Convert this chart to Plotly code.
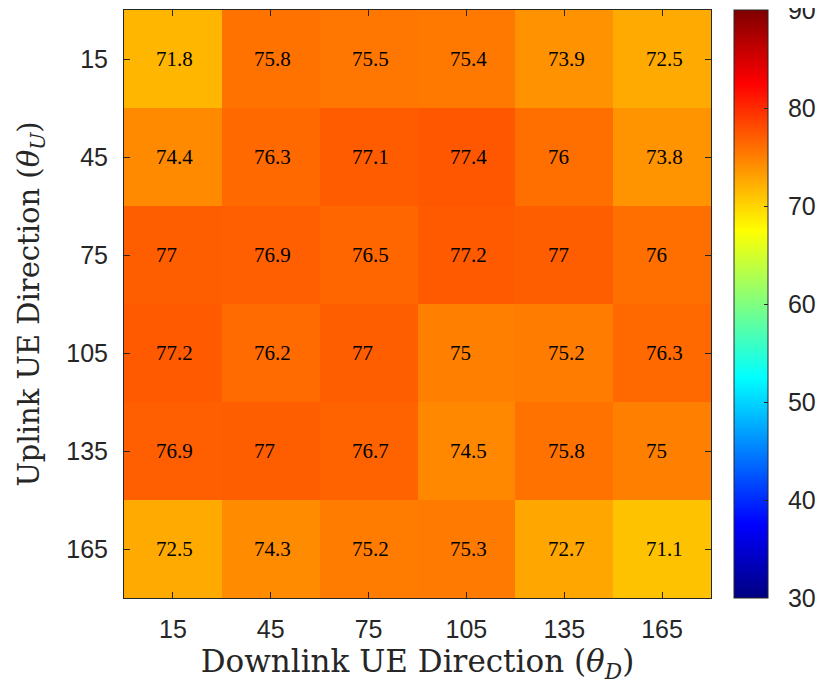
import plotly.graph_objects as go

downlink_dirs = [15, 45, 75, 105, 135, 165]
uplink_dirs = [15, 45, 75, 105, 135, 165]

row_15 = [71.8, 75.8, 75.5, 75.4, 73.9, 72.5]
row_45 = [74.4, 76.3, 77.1, 77.4, 76, 73.8]
row_75 = [77, 76.9, 76.5, 77.2, 77, 76]
row_105 = [77.2, 76.2, 77, 75, 75.2, 76.3]
row_135 = [76.9, 77, 76.7, 74.5, 75.8, 75]
row_165 = [72.5, 74.3, 75.2, 75.3, 72.7, 71.1]

cbar_ticks = [30, 40, 50, 60, 70, 80, 90]

z = [row_15, row_45, row_75, row_105, row_135, row_165]

# matlab style jet
jet = [
    [0.0, 'rgb(0,0,128)'],
    [0.125, 'rgb(0,0,255)'],
    [0.375, 'rgb(0,255,255)'],
    [0.625, 'rgb(255,255,0)'],
    [0.875, 'rgb(255,0,0)'],
    [1.0, 'rgb(128,0,0)'],
]

axis_col = '#262626'
tick_font = dict(family='Liberation Sans', size=25, color=axis_col)
nb = '\u00a0'

fig = go.Figure()
fig.add_trace(go.Heatmap(
    x=downlink_dirs, y=uplink_dirs, z=z,
    colorscale=jet, zmin=30, zmax=90,
    hoverinfo='skip',
    colorbar=dict(
        x=1.039, xanchor='left', xpad=0, y=0.5, yanchor='middle', ypad=0,
        len=1.0, lenmode='fraction', thickness=34,
        outlinecolor=axis_col, outlinewidth=1,
        tickmode='array', tickvals=cbar_ticks,
        ticktext=[nb * 2 + str(t) for t in cbar_ticks],
        ticklabeloverflow='allow',
        ticks='inside', ticklen=4, tickcolor=axis_col, tickfont=tick_font,
    ),
))

for i, yv in enumerate(uplink_dirs):
    for j, xv in enumerate(downlink_dirs):
        fig.add_annotation(
            x=xv - 5.7, y=yv, text=f'{z[i][j]:g}', showarrow=False,
            xanchor='left', yanchor='middle',
            font=dict(family='Liberation Serif', size=21, color='black'),
        )

fig.update_xaxes(
    range=[0, 180], tickvals=downlink_dirs, ticks='inside', ticklen=6,
    tickcolor=axis_col, mirror='ticks', showline=True, linecolor=axis_col,
    linewidth=1, showgrid=False, zeroline=False, tickfont=tick_font,
    ticklabelstandoff=9,
    title=dict(text='Downlink UE Direction (<i>θ</i><sub><i>D</i></sub>)',
               font=dict(family='DejaVu Serif', size=31, color=axis_col),
               standoff=6),
)
fig.update_yaxes(
    range=[180, 0], tickvals=uplink_dirs, ticks='inside', ticklen=6,
    tickcolor=axis_col, mirror='ticks', showline=True, linecolor=axis_col,
    linewidth=1, showgrid=False, zeroline=False, tickfont=tick_font,
    ticklabelstandoff=10,
    title=dict(text='Uplink UE Direction (<i>θ</i><sub><i>U</i></sub>)',
               font=dict(family='DejaVu Serif', size=29, color=axis_col),
               standoff=18),
)

fig.update_layout(
    width=830, height=687,
    margin=dict(l=116, r=127, t=2, b=97),
    plot_bgcolor='white', paper_bgcolor='white',
    showlegend=False,
)

fig.write_html("out.html")
